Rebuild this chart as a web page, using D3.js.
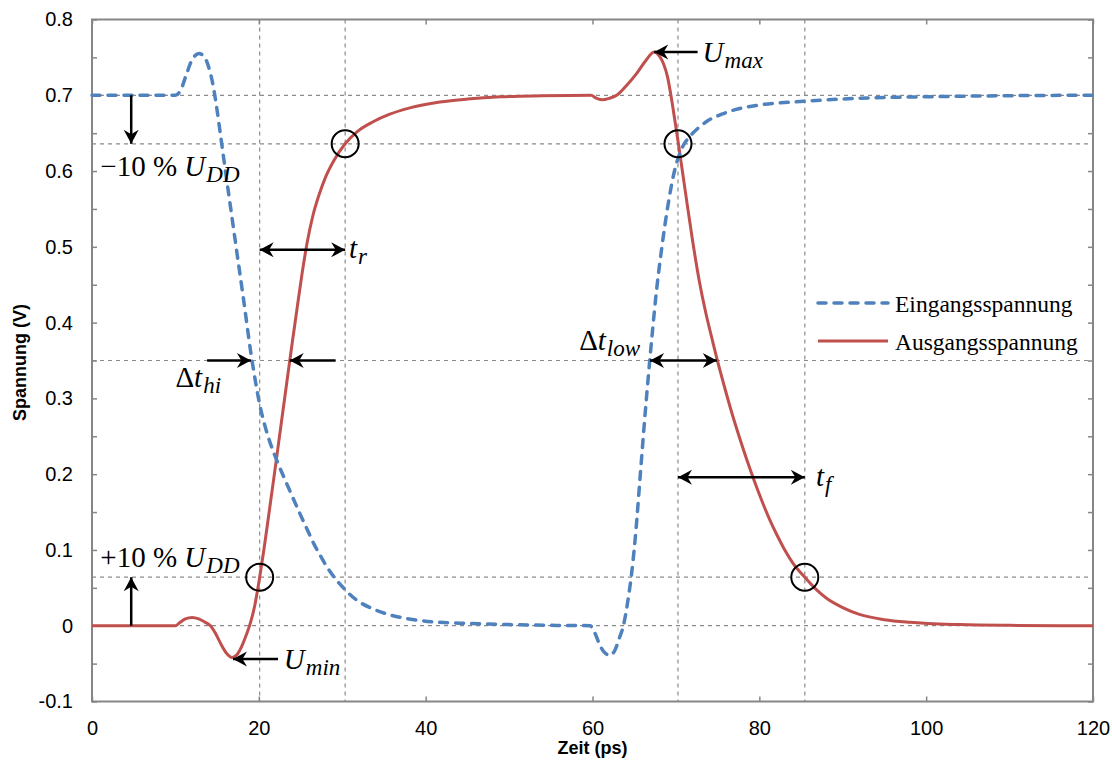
<!DOCTYPE html>
<html>
<head>
<meta charset="utf-8">
<script src="https://cdn.jsdelivr.net/npm/d3@7"></script>
<style>
  body { margin: 0; background: #fff; }
  svg { display: block; }
</style>
</head>
<body>
<svg id="chart" width="1112" height="763"></svg>
<script>
// Input voltage (ps, V)
const inputSeries = [
  [0,0.7],[10,0.7],[10.6,0.706],[11.3,0.727],[12,0.747],[12.85,0.755],[13.5,0.75],[14.1,0.733],[14.6,0.708],
  [15.0,0.68],[15.5,0.64],[16.0,0.6],[16.6,0.553],[17.3,0.498],[18.2,0.428],[19.1,0.356],[19.6,0.322],
  [20.1,0.292],[20.7,0.265],[21.4,0.24],[22.2,0.217],[23.0,0.196],[23.8,0.176],[24.8,0.151],[25.8,0.127],
  [26.6,0.108],[27.4,0.092],[28.2,0.077],[29.1,0.063],[30.3,0.048],[31.7,0.034],[33.5,0.023],[35.5,0.015],
  [38,0.009],[41,0.005],[45,0.003],[50,0.0015],[55,0.0005],[59.7,0],[60.3,-0.01],[60.9,-0.026],[61.5,-0.036],
  [62.1,-0.039],[62.7,-0.032],[63.2,-0.017],[63.7,0.0],[64.2,0.03],[64.7,0.07],[65.2,0.125],[65.7,0.195],
  [66.2,0.265],[66.7,0.33],[67.2,0.39],[67.7,0.445],[68.2,0.49],[68.7,0.53],[69.2,0.565],[69.7,0.594],
  [70.2,0.615],[70.8,0.632],[71.7,0.646],[72.8,0.658],[73.9,0.667],[75.5,0.675],[77.1,0.681],[79.9,0.687],
  [85.3,0.692],[91.9,0.696],[100,0.698],[110,0.6995],[120,0.7]
];

// Output voltage (ps, V)
const outputSeries = [
  [0,0],[10,0],[10.5,0.004],[11.2,0.009],[12,0.011],[12.8,0.009],[13.5,0.005],[14.2,0.0],[14.8,-0.01],
  [15.4,-0.023],[16.1,-0.036],[16.8,-0.042],[17.4,-0.038],[18.0,-0.026],[18.5,-0.012],[19.0,0.004],
  [19.5,0.026],[20.1,0.064],[20.6,0.1],[21.2,0.147],[21.9,0.203],[22.6,0.26],[23.4,0.325],[24.0,0.373],
  [24.6,0.42],[25.2,0.466],[25.8,0.506],[26.5,0.542],[27.2,0.568],[28.0,0.592],[29.0,0.614],[30.35,0.636],
  [31.8,0.652],[33.7,0.665],[35.7,0.675],[38,0.683],[41.7,0.691],[45,0.695],[49,0.698],[54,0.6993],[59.8,0.7],
  [60.5,0.696],[61.2,0.694],[62,0.696],[62.9,0.7],[64,0.712],[65.3,0.729],[66.4,0.746],[67.4,0.757],
  [68.0,0.752],[68.5,0.742],[69.0,0.724],[69.4,0.7],[69.9,0.665],[70.3,0.636],[70.8,0.598],[71.3,0.56],
  [72.0,0.508],[72.8,0.455],[73.6,0.412],[74.3,0.38],[74.9,0.353],[75.8,0.316],[76.7,0.281],[77.6,0.249],
  [78.5,0.219],[79.4,0.191],[80.3,0.165],[81.2,0.141],[82.1,0.12],[83.0,0.101],[84.0,0.083],[85.45,0.064],
  [87,0.046],[88.1,0.036],[90,0.024],[92,0.015],[95,0.008],[98,0.0045],[104,0.0015],[110,0.0005],[120,0]
];

const seriesNames = ["Eingangsspannung", "Ausgangsspannung"];
const seriesColors = ["#4F81BD", "#C0504D"];

const xTickValues = [0, 20, 40, 60, 80, 100, 120];
const yTickValues = [-0.1, 0, 0.1, 0.2, 0.3, 0.4, 0.5, 0.6, 0.7, 0.8];
const yMinorTicks = d3.range(-0.1, 0.8001, 0.05);

// Reference levels (V) and crossing times (ps) used for the measurement guides
const refLevels = [0.7, 0.636, 0.35, 0.064, 0];
const refTimes = [20.1, 30.35, 70.25, 85.45];
const crossings = [[20.1, 0.064], [30.35, 0.636], [70.25, 0.636], [85.45, 0.064]];

const svg = d3.select("#chart");
const plot = { left: 92, right: 1093, top: 19.5, bottom: 701.5 };

const x = d3.scaleLinear().domain([0, 120]).range([plot.left, plot.right]);
const y = d3.scaleLinear().domain([-0.1, 0.8]).range([plot.bottom, plot.top]);

// Arrowhead
const defs = svg.append("defs");
defs.append("marker")
  .attr("id", "head")
  .attr("viewBox", "-16 -8 17 16")
  .attr("refX", 0).attr("refY", 0)
  .attr("markerWidth", 17).attr("markerHeight", 16)
  .attr("markerUnits", "userSpaceOnUse")
  .attr("orient", "auto-start-reverse")
  .append("path")
  .attr("d", "M0,0 L-14,-7.5 L-9.5,0 L-14,7.5 Z")
  .attr("fill", "#000");

// Guide lines
const grid = svg.append("g").attr("stroke", "#8a8a8a").attr("stroke-width", 1.2)
  .attr("stroke-dasharray", "4,4").attr("fill", "none");
grid.selectAll("line.h").data(refLevels).join("line")
  .attr("x1", plot.left).attr("x2", plot.right)
  .attr("y1", d => y(d)).attr("y2", d => y(d));
grid.selectAll("line.v").data(refTimes).join("line")
  .attr("x1", d => x(d)).attr("x2", d => x(d))
  .attr("y1", plot.top).attr("y2", plot.bottom);

// Frame
svg.append("rect")
  .attr("x", plot.left).attr("y", plot.top)
  .attr("width", plot.right - plot.left).attr("height", plot.bottom - plot.top)
  .attr("fill", "none").attr("stroke", "#868686").attr("stroke-width", 2);

// Inward tick marks
const tickStyle = g => g.call(s => s.select(".domain").remove())
  .selectAll("line").attr("stroke", "#868686").attr("stroke-width", 1.5);
svg.append("g").attr("transform", `translate(${plot.left},0)`)
  .call(d3.axisLeft(y).tickValues(yMinorTicks).tickSize(-5).tickFormat(""))
  .call(tickStyle);
svg.append("g").attr("transform", `translate(${plot.right},0)`)
  .call(d3.axisRight(y).tickValues(yMinorTicks).tickSize(-5).tickFormat(""))
  .call(tickStyle);
svg.append("g").attr("transform", `translate(0,${plot.bottom})`)
  .call(d3.axisBottom(x).tickValues(xTickValues).tickSize(-5).tickFormat(""))
  .call(tickStyle);
svg.append("g").attr("transform", `translate(0,${plot.top})`)
  .call(d3.axisTop(x).tickValues(xTickValues).tickSize(-5).tickFormat(""))
  .call(tickStyle);

// Tick labels
const fmtY = d => Math.abs(d) < 1e-9 ? "0" : d.toFixed(1);
const yLab = svg.append("g").attr("transform", `translate(${plot.left},0)`)
  .call(d3.axisLeft(y).tickValues(yTickValues).tickSize(0).tickPadding(19).tickFormat(fmtY));
yLab.select(".domain").remove();
yLab.selectAll("text").attr("font-family", "'Liberation Sans', Arial, sans-serif")
  .attr("font-size", 20).attr("fill", "#000");

const xLab = svg.append("g").attr("transform", `translate(0,${plot.bottom})`)
  .call(d3.axisBottom(x).tickValues(xTickValues).tickSize(0).tickPadding(19));
xLab.select(".domain").remove();
xLab.selectAll("text").attr("font-family", "'Liberation Sans', Arial, sans-serif")
  .attr("font-size", 20).attr("fill", "#000");

// Axis titles
svg.append("text")
  .attr("transform", `translate(26,${(plot.top + plot.bottom) / 2 + 2}) rotate(-90)`)
  .attr("text-anchor", "middle")
  .attr("font-family", "'Liberation Sans', Arial, sans-serif")
  .attr("font-weight", "bold").attr("font-size", 18)
  .text("Spannung (V)");
svg.append("text")
  .attr("x", (plot.left + plot.right) / 2).attr("y", 754)
  .attr("text-anchor", "middle")
  .attr("font-family", "'Liberation Sans', Arial, sans-serif")
  .attr("font-weight", "bold").attr("font-size", 18)
  .text("Zeit (ps)");

// Curves
const line = d3.line().x(d => x(d[0])).y(d => y(d[1])).curve(d3.curveMonotoneX);
svg.append("path").datum(outputSeries)
  .attr("d", line).attr("fill", "none")
  .attr("stroke", seriesColors[1]).attr("stroke-width", 3);
svg.append("path").datum(inputSeries)
  .attr("d", line).attr("fill", "none")
  .attr("stroke", seriesColors[0]).attr("stroke-width", 3.5)
  .attr("stroke-dasharray", "8,8").attr("stroke-linecap", "round");

// Crossing markers
svg.append("g").selectAll("circle").data(crossings).join("circle")
  .attr("cx", d => x(d[0])).attr("cy", d => y(d[1])).attr("r", 13.5)
  .attr("fill", "none").attr("stroke", "#000").attr("stroke-width", 2);

// Measurement arrows: [t1, v1, t2, v2, double-headed]
const arrows = [
  [4.7, 0.7, 4.7, 0.636, false],
  [4.7, 0, 4.7, 0.064, false],
  [20.1, 0.496, 30.35, 0.496, true],
  [13.8, 0.35, 19.05, 0.35, false],
  [29.2, 0.35, 23.7, 0.35, false],
  [66.9, 0.35, 74.9, 0.35, true],
  [70.25, 0.196, 85.45, 0.196, true],
  [72.6, 0.757, 67.4, 0.757, false],
  [22.3, -0.044, 16.9, -0.044, false]
];
svg.append("g").selectAll("line").data(arrows).join("line")
  .attr("x1", d => x(d[0])).attr("y1", d => y(d[1]))
  .attr("x2", d => x(d[2])).attr("y2", d => y(d[3]))
  .attr("stroke", "#000").attr("stroke-width", 2.5)
  .attr("marker-end", "url(#head)")
  .attr("marker-start", d => d[4] ? "url(#head)" : null);

// Math-style labels: [t, v, prefix (upright), symbol (italic), subscript]
const mathLabels = [
  [1.0, 0.593, "\u221210 % ", "U", "DD"],
  [1.0, 0.077, "+10 % ", "U", "DD"],
  [30.8, 0.485, "", "t", "r"],
  [10.0, 0.315, "\u0394", "t", "hi"],
  [58.4, 0.364, "\u0394", "t", "low"],
  [86.8, 0.185, "", "t", "f"],
  [73.2, 0.744, "", "U", "max"],
  [23.0, -0.057, "", "U", "min"]
];
const mathFont = "'Liberation Serif', 'Times New Roman', serif";
const ml = svg.append("g").attr("font-family", mathFont).attr("font-size", 29).attr("fill", "#000");
mathLabels.forEach(([t, v, pre, sym, sub]) => {
  const txt = ml.append("text").attr("x", x(t)).attr("y", y(v));
  if (pre) txt.append("tspan").text(pre);
  txt.append("tspan").attr("font-style", "italic").text(sym);
  txt.append("tspan").attr("font-style", "italic").attr("font-size", 23)
    .attr("dy", 6).attr("dx", 1).text(sub);
});

// Legend
const legend = svg.append("g").attr("transform", "translate(818,303)");
seriesNames.forEach((name, i) => {
  const row = legend.append("g").attr("transform", `translate(0,${i * 38})`);
  row.append("line").attr("x1", 0).attr("x2", 70).attr("y1", 0).attr("y2", 0)
    .attr("stroke", seriesColors[i]).attr("stroke-width", i === 0 ? 3.5 : 3)
    .attr("stroke-dasharray", i === 0 ? "8,8" : null)
    .attr("stroke-linecap", i === 0 ? "round" : "butt");
  row.append("text").attr("x", 77).attr("y", 9)
    .attr("font-family", "'Liberation Serif', 'Times New Roman', serif")
    .attr("font-size", 23.5).attr("fill", "#000").text(name);
});
</script>
</body>
</html>
